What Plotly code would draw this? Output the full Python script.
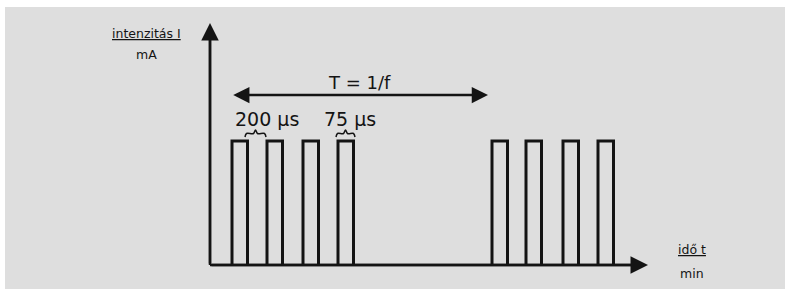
import plotly.graph_objects as go

# Schematic pulse train (schematic time units along x, current units along y)
pulse_starts = [22, 57, 93, 128, 282, 316, 353, 388]
pulse_width = 15.5
pulse_height = 124

x_axis_end = 438
y_axis_end = 242

period_start = 21.7
period_end = 278
period_label = "T = 1/f"

gap_label = "200 µs"
width_label = "75 µs"
brace_gap = (35, 56)      # spans the gap between pulse 1 and 2
brace_width = (126, 145)  # spans pulse 4

y_title = ["intenzitás I", "mA"]
x_title = ["idő t", "min"]

INK = "#141414"
FONT = "DejaVu Sans"

fig = go.Figure()

# pulses
px, py = [], []
for s in pulse_starts:
    px += [s, s, s + pulse_width, s + pulse_width, None]
    py += [0, pulse_height, pulse_height, 0, None]
fig.add_trace(go.Scatter(x=px, y=py, mode="lines",
                         line=dict(color=INK, width=3), hoverinfo="skip"))

# axis lines
fig.add_trace(go.Scatter(x=[0, x_axis_end - 6], y=[0, 0], mode="lines",
                         line=dict(color=INK, width=2.5), hoverinfo="skip"))
fig.add_trace(go.Scatter(x=[0, 0], y=[0, y_axis_end - 6], mode="lines",
                         line=dict(color=INK, width=2.5), hoverinfo="skip"))

# braces
def brace(x1, x2, y0=128, h=7):
    m = (x1 + x2) / 2
    return ([x1, x1 + 1.5, m - 2, m, m + 2, x2 - 1.5, x2],
            [y0, y0 + h * 0.5, y0 + h * 0.5, y0 + h, y0 + h * 0.5, y0 + h * 0.5, y0])

for b in (brace_gap, brace_width):
    bx, by = brace(*b)
    fig.add_trace(go.Scatter(x=bx, y=by, mode="lines",
                             line=dict(color=INK, width=1.5, shape="spline"),
                             hoverinfo="skip"))

annotations = [
    # x axis arrow
    dict(x=x_axis_end, y=0, ax=0, ay=0, xref="x", yref="y", axref="x", ayref="y",
         showarrow=True, arrowhead=2, arrowsize=1.4, arrowwidth=2.5, arrowcolor=INK, text=""),
    # y axis arrow
    dict(x=0, y=y_axis_end, ax=0, ay=0, xref="x", yref="y", axref="x", ayref="y",
         showarrow=True, arrowhead=2, arrowsize=1.4, arrowwidth=2.5, arrowcolor=INK, text=""),
    # period arrow
    dict(x=period_end, y=170, ax=period_start, ay=170, xref="x", yref="y", axref="x", ayref="y",
         showarrow=True, arrowhead=2, startarrowhead=2, arrowside="end+start",
         arrowsize=1.3, startarrowsize=1.3, arrowwidth=2.5, arrowcolor=INK, text=""),
    dict(x=(period_start + period_end) / 2, y=183, xref="x", yref="y", showarrow=False,
         text=period_label, font=dict(family=FONT, size=18, color=INK)),
    dict(x=57, y=146, xref="x", yref="y", showarrow=False,
         text=gap_label, font=dict(family=FONT, size=19, color=INK)),
    dict(x=140, y=146, xref="x", yref="y", showarrow=False,
         text=width_label, font=dict(family=FONT, size=19, color=INK)),
    dict(x=-64, y=232, xref="x", yref="y", showarrow=False,
         text="<u>" + y_title[0] + "</u>", font=dict(family=FONT, size=12.5, color=INK)),
    dict(x=-64, y=211, xref="x", yref="y", showarrow=False,
         text=y_title[1], font=dict(family=FONT, size=12.5, color=INK)),
    dict(x=482, y=16, xref="x", yref="y", showarrow=False,
         text="<u>" + x_title[0] + "</u>", font=dict(family=FONT, size=12.5, color=INK)),
    dict(x=482, y=-8, xref="x", yref="y", showarrow=False,
         text=x_title[1], font=dict(family=FONT, size=12.5, color=INK)),
]

fig.update_layout(
    width=785, height=289,
    margin=dict(l=0, r=0, t=0, b=0),
    paper_bgcolor="white", plot_bgcolor="rgba(0,0,0,0)",
    showlegend=False,
    xaxis=dict(range=[-210, 575], visible=False, fixedrange=True),
    yaxis=dict(range=[-24, 265], visible=False, fixedrange=True),
    annotations=annotations,
    shapes=[dict(type="rect", xref="paper", yref="paper", x0=5 / 785, x1=1, y0=0, y1=1 - 7 / 289,
                 fillcolor="#dedede", line=dict(width=0), layer="below")],
)

fig.write_html("out.html", config={"displayModeBar": False},
               post_script="document.body.style.margin='0px';document.body.style.overflow='hidden';")
